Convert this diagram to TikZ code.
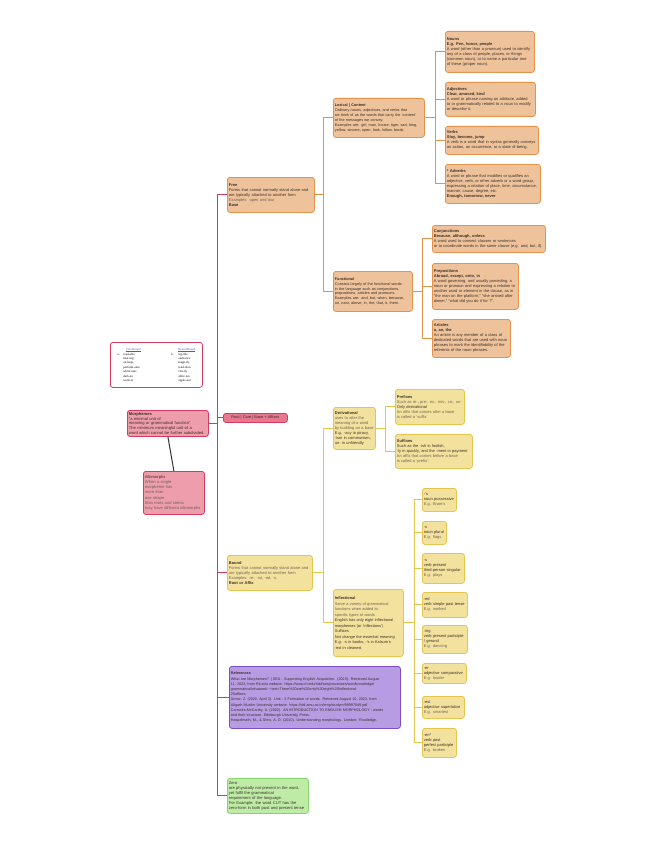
\documentclass[tikz,border=0pt]{standalone}
\usepackage{fontspec}
\setmainfont{Liberation Sans}
\newfontfamily\tabfont{Liberation Serif}
\usetikzlibrary{positioning}

\definecolor{orfill}{HTML}{EEC39B}
\definecolor{ordraw}{HTML}{E5934A}
\definecolor{yefill}{HTML}{F3E29E}
\definecolor{yedraw}{HTML}{E4C64E}
\definecolor{pkfill}{HTML}{EE9DAC}
\definecolor{pkdraw}{HTML}{D63A5C}
\definecolor{rtfill}{HTML}{E87890}
\definecolor{vifill}{HTML}{B79CE3}
\definecolor{vidraw}{HTML}{7C4EC6}
\definecolor{grfill}{HTML}{BEEBA6}
\definecolor{grdraw}{HTML}{88D46C}
\definecolor{dtext}{HTML}{3A2E28}
\definecolor{ltext}{HTML}{6E6258}
\definecolor{tabblue}{HTML}{3B5FD0}

\newcommand{\mapfont}{\fontsize{4.0}{5.0}\selectfont}
\newcommand{\smallmap}{\fontsize{3.9}{4.7}\selectfont}
\newcommand{\lt}[1]{{\color{ltext}#1}}

\tikzset{
  topic/.style={draw, rounded corners=2.5pt, line width=0.8pt, anchor=north west,
    align=left, inner xsep=1.5pt, inner ysep=1.5pt, font=\mapfont, text=dtext},
  otopic/.style={topic, fill=orfill, draw=ordraw},
  ytopic/.style={topic, fill=yefill, draw=yedraw},
  ptopic/.style={topic, fill=pkfill, draw=pkdraw},
  vtopic/.style={topic, fill=vifill, draw=vidraw},
  gtopic/.style={topic, fill=grfill, draw=grdraw},
  oline/.style={draw=ordraw, line width=1pt},
  yline/.style={draw=yedraw, line width=1pt},
  rline/.style={draw=pkdraw, line width=1pt}
}

\begin{document}
\begin{tikzpicture}[x=1pt, y=-1pt]
\useasboundingbox (0,0) rectangle (656,848);

% free side
\node[otopic, minimum width=89, minimum height=41, text width=86] (nouns) at (445,31)
  {\textbf{Nouns}\\ \textbf{E.g. Pen, honor, people}\\
   A word (other than a pronoun) used to identify\\ any of a class of people, places, or things\\
   (common noun), or to name a particular one\\ of these (proper noun).};
\node[otopic, minimum width=90, minimum height=34, text width=87] (adjectives) at (445,82)
  {\textbf{Adjectives}\\ \textbf{Clear, amused, kind}\\
   A word or phrase naming an attribute, added\\ to or grammatically related to a noun to modify\\
   or describe it.};
\node[otopic, minimum width=93, minimum height=28, text width=90] (verbs) at (445,126)
  {\textbf{Verbs}\\ \textbf{Stay, become, jump}\\
   A verb is a word that in syntax generally conveys\\ an action, an occurrence, or a state of being.};
\node[otopic, minimum width=95, minimum height=39, text width=92] (adverbs) at (445,164)
  {\textbf{* Adverbs}\\
   A word or phrase that modifies or qualifies an\\ adjective, verb, or other adverb or a word group,\\
   expressing a relation of place, time, circumstance,\\ manner, cause, degree, etc.\\
   \textbf{Enough, tomorrow, never}};
\node[otopic, minimum width=91, minimum height=39, text width=88, font=\fontsize{3.8}{4.9}\selectfont] (lexical) at (333,98)
  {\textbf{Lexical | Content}\\
   Ordinary nouns, adjectives, and verbs that\\ we think of as the words that carry the `content'\\
   of the messages we convey.\\ Examples are: girl, man, house, tiger, sad, long,\\
   yellow, sincere, open, look, follow, break};
\node[otopic, minimum width=79, minimum height=40, text width=76, font=\fontsize{3.8}{4.9}\selectfont] (functional) at (333,271)
  {\textbf{Functional}\\
   Consists largely of the functional words\\ in the language such as conjunctions,\\
   prepositions, articles and pronouns.\\ Examples are: and, but, when, because,\\
   on, near, above, in, the, that, it, them.};
\node[otopic, minimum width=113, minimum height=27, text width=110] (conjunctions) at (432,225)
  {\textbf{Conjunctions}\\ \textbf{Because, although, unless}\\
   A word used to connect clauses or sentences\\ or to coordinate words in the same clause (e.g. and, but, if).};
\node[otopic, minimum width=86, minimum height=46, text width=83] (prepositions) at (432,263)
  {\textbf{Prepositions}\\ \textbf{Abroad, except, onto, in}\\
   A word governing, and usually preceding, a\\ noun or pronoun and expressing a relation to\\
   another word or element in the clause, as in\\ ``the man on the platform,'' ``she arrived after\\
   dinner,'' ``what did you do it for ?''.};
\node[otopic, minimum width=78, minimum height=38, text width=75] (articles) at (432,319)
  {\textbf{Articles}\\ \textbf{a, an, the}\\
   An article is any member of a class of\\ dedicated words that are used with noun\\
   phrases to mark the identifiability of the\\ referents of the noun phrases.};
\node[otopic, minimum width=87, minimum height=35, text width=84] (free) at (227,177)
  {\textbf{Free}\\
   Forms that cannot normally stand alone and\\ are typically attached to another form\\
   \lt{Examples: open and tour}\\ \textbf{Base}};

% centre
\node[draw=pkdraw, fill=white, line width=0.8pt, rounded corners=2.5pt, anchor=north west,
  minimum width=92, minimum height=45, inner sep=1pt, font=\tabfont\fontsize{3.1}{5.0}\selectfont] (examples) at (110,342)
  {\begin{tabular}{@{}p{6pt}@{}p{48pt}@{}p{7pt}@{}l@{}}
   & \hspace{3pt}\textcolor{tabblue}{\underline{Free\,Bound}} & & \textcolor{tabblue}{\underline{Bound\,Bound}}\\[-0.6pt]
   a. & read-able & b. & leg-ible\\[-0.6pt]
      & hear-ing & & audi-ence\\[-0.6pt]
      & en-large & & magn-ify\\[-0.6pt]
      & perform-ance & & rend-ition\\[-0.6pt]
      & white-ness & & clar-ity\\[-0.6pt]
      & dark-en & & obliv-ion\\[-0.6pt]
      & work-er & & applic-ant
   \end{tabular}};
\node[ptopic, minimum width=80, minimum height=26, text width=78, font=\fontsize{4.1}{4.7}\selectfont] (morphemes) at (127,410)
  {\textbf{Morphemes}\\ ``a minimal unit of\\ meaning or grammatical function''\\
   The minimum meaningful unit of a\\ word which cannot be further subdivided.};
\node[ptopic, minimum width=60, minimum height=43, text width=58, font=\fontsize{4.1}{5.3}\selectfont] (allomorphs) at (143,471)
  {Allomorphs\\ \lt{When a single}\\ \lt{morpheme has}\\ \lt{more than}\\ \lt{one shape}\\
   \lt{Also roots and stems}\\ \lt{may have different allomorphs}};
\node[topic, fill=rtfill, draw=pkdraw, minimum width=64, minimum height=9, inner ysep=0.8pt,
  font=\fontsize{3.9}{4.4}\selectfont] (root) at (223,413) {Root | Core | Base + Affixes};

% bound side
\node[ytopic, minimum width=41, minimum height=42, text width=39] (derivational) at (333,407)
  {\textbf{Derivational}\\ \lt{uses to alter the}\\ \lt{meaning of a word}\\ \lt{by building on a base}\\
   E.g. -acy in piracy,\\ -ism in communism,\\ un- in unfriendly};
\node[ytopic, minimum width=68, minimum height=35, text width=66] (prefixes) at (395,389)
  {\textbf{Prefixes}\\ \lt{Such as re-, pre-, ex-, mis-, co-, un-}\\ Only derivational\\
   \lt{An affix that comes after a base}\\ \lt{is called a `suffix'}};
\node[ytopic, minimum width=76, minimum height=34, text width=74] (suffixes) at (395,434)
  {\textbf{Suffixes}\\ Such as the -ish in foolish,\\ -ly in quickly, and the -ment in payment\\
   \lt{An affix that comes before a base}\\ \lt{is called a `prefix'.}};
\node[ytopic, minimum width=85, minimum height=35, text width=82, font=\mapfont] (bound) at (227,555)
  {\textbf{Bound}\\ \lt{Forms that cannot normally stand alone and}\\ \lt{are typically attached to another form}\\
   \lt{Examples: re-, -ist, -ed, -s.}\\ \textbf{Root or Affix}};
\node[ytopic, minimum width=69, minimum height=67, text width=67, font=\fontsize{3.9}{5.5}\selectfont] (inflectional) at (333,589)
  {\textbf{Inflectional}\\ \lt{Serve a variety of grammatical}\\ \lt{functions when added to}\\ \lt{specific types of words}\\
   English has only eight inflectional\\ morphemes (or `inflections')\\ Suffixes\\
   Not change the essential meaning\\ E.g. -s in books, -'s in Kalsum's\\ -est in cleanest};
\node[ytopic, minimum width=33, minimum height=23, text width=31] (possessive) at (422,488)
  {-'s\\ noun possessive\\ \lt{E.g. Bram's}};
\node[ytopic, minimum width=23, minimum height=23, text width=21] (plural) at (422,521)
  {-s\\ noun plural\\ \lt{E.g. flags}};
\node[ytopic, minimum width=41, minimum height=30, text width=39] (thirdperson) at (422,553)
  {-s\\ verb present\\ third-person singular\\ \lt{E.g. plays}};
\node[ytopic, minimum width=44, minimum height=25, text width=42] (pasttense) at (422,592)
  {-ed\\ verb simple past tense\\ \lt{E.g. worked}};
\node[ytopic, minimum width=44, minimum height=28, text width=42] (participle) at (422,625)
  {-ing\\ verb present participle\\ / gerund\\ \lt{E.g. dancing}};
\node[ytopic, minimum width=43, minimum height=20, text width=41] (comparative) at (422,663)
  {-er\\ adjective comparative\\ \lt{E.g. louder}};
\node[ytopic, minimum width=41, minimum height=22, text width=39] (superlative) at (422,696)
  {-est\\ adjective superlative\\ \lt{E.g. smartest}};
\node[ytopic, minimum width=33, minimum height=29, text width=31] (perfect) at (422,728)
  {-en*\\ verb past\\ perfect participle\\ \lt{E.g. broken}};

% references and zero
\node[vtopic, minimum width=171, minimum height=62, text width=168, font=\fontsize{3.7}{5.2}\selectfont] (references) at (229,666)
  {\textbf{References}\\
   What are Morphemes? | SEA - Supporting English Acquisition. (2023). Retrieved August\\
   11, 2023, from Rit.edu website: https://www.rit.edu/ntid/sea/processes/wordknowledge/\\
   grammatical/whatare\#:\textasciitilde:text=There\%20are\%20only\%20eight\%20inflectional\\
   20affixes.\\
   Armor, Z. (2020, April 3). Unit - 3 Formation of words. Retrieved August 10, 2023, from\\
   Aligarh Muslim University website: https://old.amu.ac.in/emp/studym/99997049.pdf\\
   Carstairs-McCarthy, A. (2002). AN INTRODUCTION TO ENGLISH MORPHOLOGY : words\\
   and their structure. Edinburgh University Press.\\
   Haspelmath, M., \& Sims, A. D. (2010). Understanding morphology. London: Routledge.};
\node[gtopic, minimum width=80, minimum height=35, text width=78, font=\fontsize{4.1}{5.1}\selectfont] (zero) at (227,778)
  {Zero\\ are physically not present in the word,\\ yet fulfil the grammatical\\
   requirement of the language.\\ For Example: the word CUT has the\\
   zero-form in both past and present tense};

% connectors
\draw[rline] (morphemes.east) -- ++(9,0) |- (free.west);
\draw[rline] (morphemes.east) -- ++(9,0) |- (root.west);
\draw[rline] (morphemes.east) -- ++(9,0) |- (bound.west);
\draw[rline] (morphemes.east) -- ++(9,0) |- (references.west);
\draw[rline] (morphemes.east) -- ++(9,0) |- (zero.west);
\draw[line width=1pt, draw=black!80] (morphemes.south) -- (allomorphs.north);

\draw[oline] (free.east) -- ++(9,0) |- (lexical.west);
\draw[oline] (free.east) -- ++(9,0) |- (functional.west);
\foreach \n in {nouns,adjectives,verbs,adverbs}
  \draw[oline] (lexical.east) -- ++(11,0) |- (\n.west);
\foreach \n in {conjunctions,prepositions,articles}
  \draw[oline] (functional.east) -- ++(10,0) |- (\n.west);

\draw[yline] (bound.east) -- ++(11,0) |- (derivational.west);
\draw[yline] (bound.east) -- ++(11,0) |- (inflectional.west);
\draw[yline] (derivational.east) -- ++(10,0) |- (prefixes.west);
\draw[yline] (derivational.east) -- ++(10,0) |- (suffixes.west);
\foreach \n in {possessive,plural,thirdperson,pasttense,participle,comparative,superlative,perfect}
  \draw[yline] (inflectional.east) -- ++(11,0) |- (\n.west);
\end{tikzpicture}
\end{document}
